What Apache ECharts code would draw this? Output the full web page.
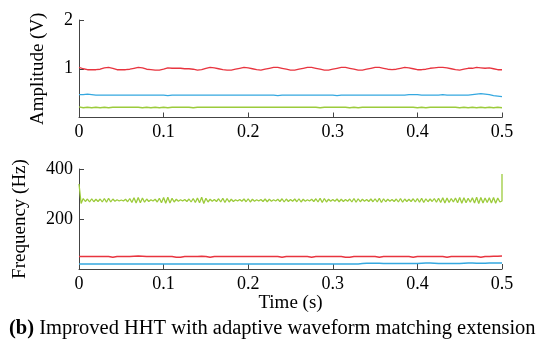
<!DOCTYPE html>
<html>
<head>
<meta charset="utf-8">
<script src="https://cdn.jsdelivr.net/npm/echarts@6/dist/echarts.min.js"></script>
<style>
  html, body { margin: 0; padding: 0; background: #fff; }
  #chart { width: 542px; height: 347px; }
</style>
</head>
<body>
<div id="chart"></div>
<script>
// time ticks (s)
const timeTicks = [0, 0.1, 0.2, 0.3, 0.4, 0.5]
const ampStep = 0.005
const freqStep = 0.005
const greenFreqStep = 0.0025

// amplitude (V), sampled every 5 ms
const redAmp = [
  1.03, 1.00, 0.98, 0.98, 0.98, 0.99, 1.02, 1.03, 1.01, 0.98,
  0.98, 0.98, 0.99, 1.01, 1.03, 1.02, 0.99, 0.98, 0.97, 0.97,
  0.99, 1.02, 1.01, 1.01, 1.01, 1.00, 1.00, 0.99, 0.97, 0.98,
  1.01, 1.03, 1.02, 1.00, 0.98, 0.97, 0.97, 0.99, 1.01, 1.03,
  1.02, 1.00, 0.98, 0.97, 0.99, 1.01, 1.03, 1.03, 1.01, 0.99,
  0.97, 0.97, 0.99, 1.01, 1.03, 1.03, 1.01, 0.99, 0.97, 0.97,
  0.99, 1.01, 1.03, 1.03, 1.01, 0.99, 0.97, 0.97, 0.99, 1.01,
  1.03, 1.03, 1.01, 0.99, 0.98, 0.99, 1.01, 1.03, 1.02, 1.00,
  0.98, 0.98, 0.99, 1.01, 1.02, 1.03, 1.03, 1.02, 1.00, 0.98,
  0.97, 0.99, 1.01, 1.01, 1.03, 1.02, 1.01, 1.02, 1.00, 0.98,
  0.98
]
const blueAmp = [
  0.47, 0.47, 0.48, 0.47, 0.46, 0.46, 0.46, 0.46, 0.46, 0.46,
  0.46, 0.46, 0.46, 0.46, 0.46, 0.46, 0.46, 0.46, 0.46, 0.46,
  0.46, 0.45, 0.46, 0.46, 0.46, 0.46, 0.46, 0.46, 0.46, 0.46,
  0.46, 0.46, 0.46, 0.46, 0.46, 0.46, 0.46, 0.46, 0.46, 0.46,
  0.46, 0.46, 0.46, 0.46, 0.46, 0.46, 0.46, 0.45, 0.46, 0.46,
  0.46, 0.46, 0.46, 0.46, 0.46, 0.46, 0.46, 0.46, 0.46, 0.46,
  0.46, 0.45, 0.46, 0.46, 0.46, 0.46, 0.46, 0.46, 0.46, 0.46,
  0.46, 0.46, 0.46, 0.46, 0.46, 0.46, 0.46, 0.46, 0.47, 0.47,
  0.47, 0.46, 0.46, 0.46, 0.46, 0.46, 0.47, 0.46, 0.46, 0.46,
  0.46, 0.46, 0.46, 0.47, 0.48, 0.49, 0.48, 0.47, 0.45, 0.44,
  0.43
]
const greenAmp = [
  0.22, 0.20, 0.21, 0.20, 0.21, 0.20, 0.21, 0.20, 0.21, 0.21,
  0.21, 0.21, 0.21, 0.21, 0.21, 0.20, 0.21, 0.20, 0.21, 0.20,
  0.21, 0.20, 0.21, 0.21, 0.21, 0.21, 0.21, 0.20, 0.21, 0.21,
  0.21, 0.21, 0.21, 0.21, 0.21, 0.21, 0.21, 0.21, 0.21, 0.21,
  0.21, 0.21, 0.21, 0.21, 0.21, 0.21, 0.21, 0.21, 0.21, 0.21,
  0.21, 0.21, 0.21, 0.21, 0.21, 0.21, 0.21, 0.20, 0.21, 0.21,
  0.21, 0.21, 0.21, 0.21, 0.20, 0.21, 0.20, 0.21, 0.21, 0.21,
  0.21, 0.21, 0.21, 0.21, 0.21, 0.21, 0.21, 0.21, 0.21, 0.21,
  0.20, 0.21, 0.20, 0.21, 0.21, 0.21, 0.21, 0.21, 0.21, 0.21,
  0.20, 0.21, 0.20, 0.21, 0.20, 0.21, 0.20, 0.21, 0.20, 0.21,
  0.20
]

// frequency (Hz), sampled every 5 ms
const redFreq = [
  50, 50, 50, 50, 50, 50, 50, 50, 47, 50,
  50, 50, 50, 51, 52, 51, 50, 50, 50, 50,
  50, 50, 50, 47, 47, 50, 50, 50, 50, 51,
  50, 47, 50, 50, 50, 50, 50, 50, 50, 50,
  50, 50, 50, 50, 50, 50, 50, 50, 47, 50,
  50, 50, 50, 50, 50, 47, 50, 50, 50, 50,
  50, 50, 50, 47, 47, 50, 50, 50, 50, 50,
  50, 47, 50, 50, 50, 50, 50, 50, 50, 47,
  50, 50, 50, 50, 50, 50, 50, 47, 50, 50,
  50, 50, 50, 50, 50, 47, 50, 50, 51, 51,
  52
]
const blueFreq = [
  20, 20, 20, 20, 20, 20, 20, 20, 20, 20,
  20, 20, 20, 20, 20, 20, 20, 20, 20, 20,
  20, 20, 20, 20, 20, 20, 20, 20, 20, 20,
  20, 20, 20, 20, 20, 20, 20, 20, 20, 20,
  20, 20, 20, 20, 20, 20, 20, 20, 20, 20,
  20, 20, 20, 20, 20, 20, 20, 20, 20, 20,
  20, 20, 20, 20, 20, 20, 20, 22, 23, 23,
  23, 23, 22, 22, 22, 22, 22, 22, 22, 22,
  22, 23, 24, 24, 23, 22, 22, 22, 22, 22,
  22, 23, 24, 24, 23, 23, 23, 24, 24, 24,
  24
]
// green frequency, sampled every 2.5 ms
const greenFreq = [
  340, 262, 282, 270, 280, 268, 281, 269, 279, 270,
  280, 268, 282, 267, 283, 268, 280, 271, 277, 272,
  276, 272, 279, 269, 282, 266, 285, 264, 286, 265,
  284, 267, 280, 270, 277, 272, 279, 268, 283, 265,
  286, 263, 287, 264, 283, 268, 279, 271, 277, 272,
  278, 270, 280, 268, 282, 266, 284, 265, 287, 262,
  283, 268, 279, 271, 278, 270, 281, 268, 283, 266,
  282, 268, 279, 270, 277, 272, 278, 271, 280, 269,
  281, 268, 279, 271, 277, 272, 278, 270, 280, 269,
  279, 271, 277, 272, 279, 270, 281, 268, 280, 270,
  278, 271, 280, 269, 281, 268, 279, 271, 277, 272,
  279, 270, 281, 268, 283, 266, 282, 268, 279, 271,
  278, 271, 280, 269, 279, 270, 278, 271, 280, 268,
  282, 267, 281, 269, 279, 271, 278, 270, 280, 269,
  281, 268, 283, 266, 281, 269, 279, 271, 278, 270,
  280, 268, 282, 267, 280, 270, 279, 270, 281, 268,
  282, 267, 283, 266, 281, 269, 280, 270, 282, 267,
  283, 266, 285, 264, 284, 266, 282, 268, 284, 265,
  286, 263, 285, 265, 283, 267, 285, 264, 287, 262,
  286, 264, 284, 266, 285, 264, 286, 263, 284, 268,
  272
]
// end transient of the green frequency at t = 0.5 s
const greenFreqTail = [[0.5, 380], [0.5, 310]]

const red = '#e8343f'
const blue = '#35a8e0'
const green = '#9ccb3b'
const axisColor = '#444'
const font = 'Liberation Serif'

function withTime(values, step) {
  return values.map((v, i) => [+(i * step).toFixed(4), v])
}

let chart = echarts.init(document.getElementById('chart'))

function xAxisOf(gridIndex, extra) {
  return Object.assign({
    type: 'value',
    gridIndex: gridIndex,
    min: timeTicks[0],
    max: timeTicks[timeTicks.length - 1],
    interval: 0.1,
    axisLine: { show: true, lineStyle: { color: axisColor, width: 1 } },
    axisTick: { show: true, inside: true, length: 5, lineStyle: { color: axisColor } },
    axisLabel: { color: '#000', fontFamily: font, fontSize: 18, margin: 6 },
    splitLine: { show: false },
  }, extra || {})
}

function yAxisOf(gridIndex, max, interval, name, gap) {
  return {
    type: 'value',
    gridIndex: gridIndex,
    min: 0,
    max: max,
    interval: interval,
    name: name,
    nameLocation: 'middle',
    nameGap: gap,
    nameTextStyle: { color: '#000', fontFamily: font, fontSize: 19 },
    axisLine: { show: true, lineStyle: { color: axisColor, width: 1 } },
    axisTick: { show: true, inside: true, length: 5, lineStyle: { color: axisColor } },
    axisLabel: {
      color: '#000', fontFamily: font, fontSize: 18, margin: 6,
      formatter: function (value) {
        return value === 0 ? '' : value
      },
    },
    splitLine: { show: false },
  }
}

function line(data, color, xi, yi) {
  return {
    type: 'line',
    xAxisIndex: xi,
    yAxisIndex: yi,
    data: data,
    showSymbol: false,
    symbol: 'none',
    lineStyle: { color: color, width: 1.3 },
    itemStyle: { color: color },
    animation: false,
  }
}

let option = {
  animation: false,
  backgroundColor: '#fff',
  title: {
    left: 4,
    top: 313,
    text: '{b|(b)} {n|Improved HHT with adaptive waveform matching extension}',
    textStyle: {
      fontFamily: font,
      fontSize: 20.5,
      fontWeight: 'normal',
      color: '#000',
      rich: {
        b: { fontFamily: font, fontSize: 20.5, fontWeight: 'bold', color: '#000' },
        n: { fontFamily: font, fontSize: 20.5, fontWeight: 'normal', color: '#000' },
      },
    },
  },
  grid: [
    { left: 79, top: 20, width: 423, height: 97.5 },
    { left: 79, top: 169, width: 423, height: 100 },
  ],
  xAxis: [
    xAxisOf(0),
    xAxisOf(1, {
      name: 'Time (s)',
      nameLocation: 'middle',
      nameGap: 24,
      nameTextStyle: { color: '#000', fontFamily: font, fontSize: 19 },
    }),
  ],
  yAxis: [
    yAxisOf(0, 2, 1, 'Amplitude (V)', 31),
    yAxisOf(1, 400, 200, 'Frequency (Hz)', 49),
  ],
  series: [
    line(withTime(redAmp, ampStep), red, 0, 0),
    line(withTime(blueAmp, ampStep), blue, 0, 0),
    line(withTime(greenAmp, ampStep), green, 0, 0),
    line(withTime(redFreq, freqStep), red, 1, 1),
    line(withTime(blueFreq, freqStep), blue, 1, 1),
    line(withTime(greenFreq, greenFreqStep).concat(greenFreqTail), green, 1, 1),
  ],
}
chart.setOption(option)
</script>
</body>
</html>
